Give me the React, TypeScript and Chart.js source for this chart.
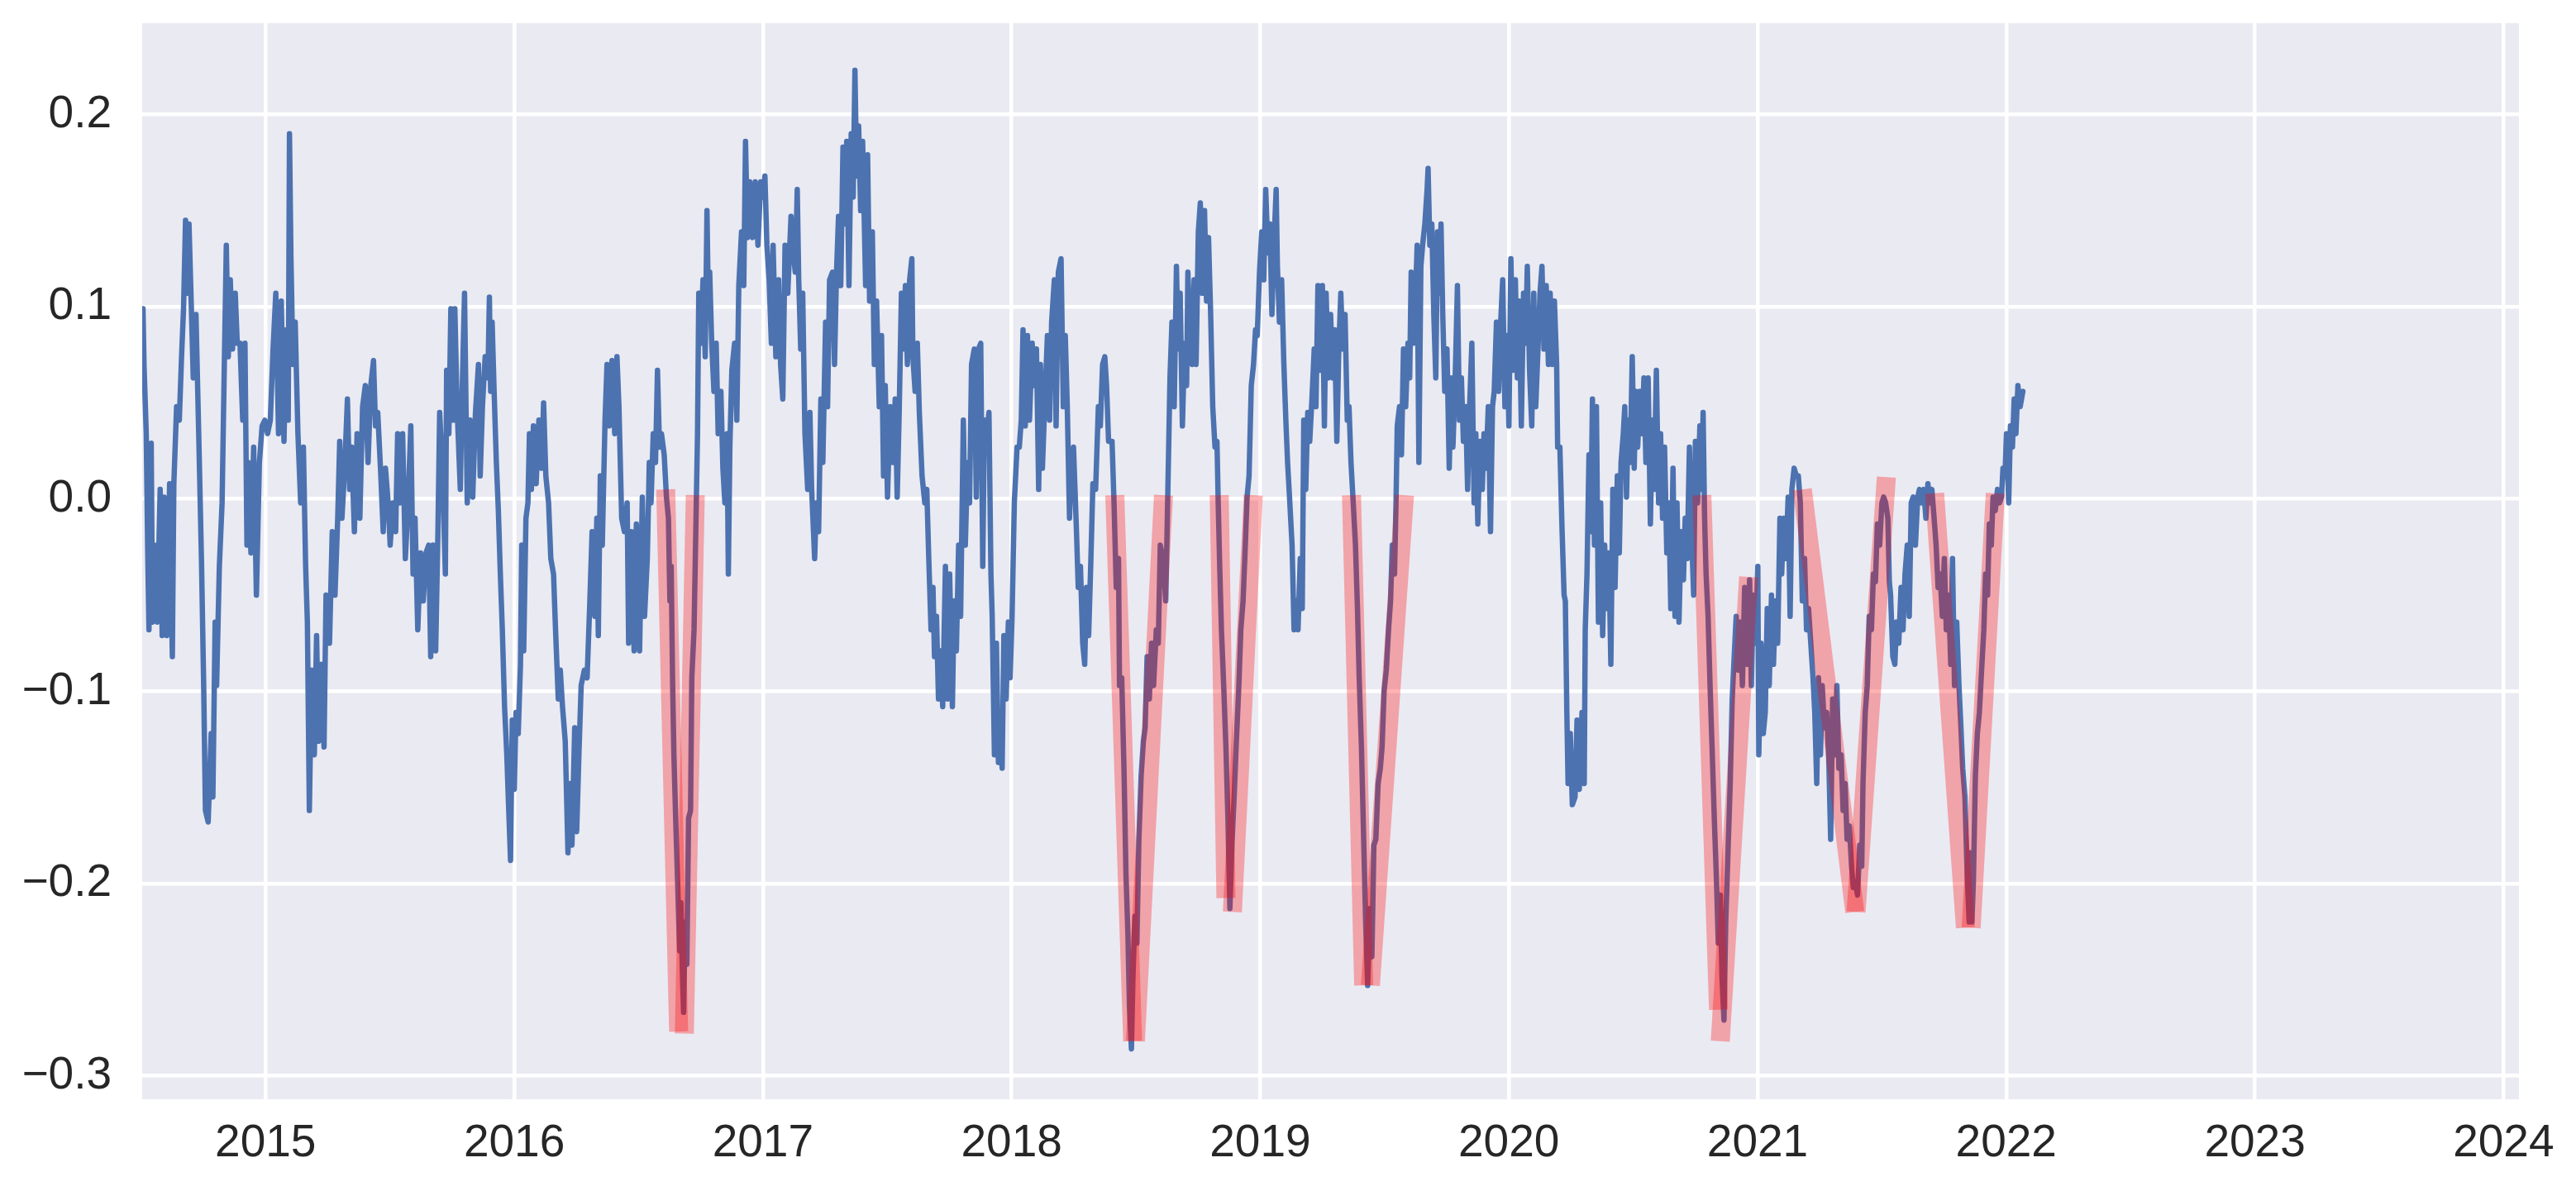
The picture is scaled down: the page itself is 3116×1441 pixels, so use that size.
import React, { useEffect, useRef } from 'react';
import { Chart, registerables } from 'chart.js';

Chart.register(...registerables);

type Pt = [number, number];

// Axis ticks and visible window (x in decimal years)
const yearTicks = [2015, 2016, 2017, 2018, 2019, 2020, 2021, 2022, 2023, 2024];
const valueTicks = [-0.3, -0.2, -0.1, 0.0, 0.1, 0.2];
const xWindow = [2014.5037, 2024.062];
const yWindow = [-0.3122, 0.2475];

// Series: [decimal year, value]
const path2014to2015: Pt[] = [
  [2014.507,0.099],[2014.511,0.070],[2014.520,0.034],[2014.526,-0.028],[2014.531,-0.068],[2014.540,0.029],[2014.545,-0.064],[2014.553,-0.024],[2014.564,-0.064],[2014.576,0.005],[2014.584,-0.071],[2014.592,0.001],[2014.603,-0.071],[2014.614,0.008],[2014.625,-0.082],[2014.631,0.008],[2014.642,0.048],[2014.653,0.041],[2014.662,0.074],[2014.670,0.099],[2014.678,0.145],[2014.686,0.107],[2014.692,0.143],[2014.703,0.092],[2014.709,0.063],[2014.720,0.096],[2014.731,0.034],[2014.742,-0.031],[2014.751,-0.097],[2014.758,-0.162],[2014.769,-0.168],[2014.781,-0.122],[2014.788,-0.155],[2014.797,-0.064],[2014.803,-0.097],[2014.814,-0.035],[2014.825,-0.002],[2014.834,0.070],[2014.842,0.132],[2014.850,0.074],[2014.858,0.114],[2014.867,0.078],[2014.878,0.107],[2014.886,0.081],[2014.897,0.081],[2014.908,0.041],[2014.917,0.081],[2014.925,-0.024],[2014.930,0.019],[2014.941,-0.028],[2014.952,0.027],[2014.963,-0.050],[2014.975,0.019],[2014.986,0.038],[2014.997,0.041],[2015.008,0.034],[2015.019,0.041],[2015.030,0.078],[2015.041,0.107],[2015.052,0.034],[2015.063,0.103],[2015.074,0.030],[2015.083,0.088],[2015.091,0.041],[2015.096,0.190],[2015.102,0.125],[2015.110,0.070],[2015.119,0.092],[2015.130,0.034],[2015.141,-0.002],[2015.152,0.027],[2015.161,-0.035],[2015.168,-0.064],[2015.176,-0.162],[2015.185,-0.089],[2015.196,-0.133],[2015.205,-0.071],[2015.213,-0.126],[2015.224,-0.086],[2015.235,-0.129],[2015.243,-0.050],[2015.257,-0.075],[2015.268,-0.017],[2015.279,-0.050],[2015.290,-0.010],[2015.298,0.030],[2015.307,-0.010],[2015.318,0.016],[2015.329,0.052],[2015.338,0.005],[2015.346,0.027],[2015.357,-0.017],[2015.368,0.034],[2015.379,-0.010],[2015.390,0.048],[2015.401,0.059],[2015.412,0.019],[2015.423,0.059],[2015.434,0.072],[2015.442,0.038],[2015.451,0.045],[2015.462,0.016],[2015.473,-0.017],[2015.482,0.016],[2015.493,-0.002],[2015.501,-0.024],[2015.512,-0.002],[2015.523,-0.017],[2015.531,0.034],[2015.540,-0.002],[2015.551,0.034],[2015.562,-0.031],[2015.573,-0.002],[2015.584,0.038],[2015.593,-0.039],[2015.601,-0.010],[2015.612,-0.068],[2015.623,-0.028],[2015.634,-0.053],[2015.645,-0.028],[2015.656,-0.024],[2015.664,-0.082],[2015.673,-0.024],[2015.684,-0.079],[2015.693,-0.017],[2015.700,0.045],[2015.711,0.016],[2015.723,-0.039],[2015.728,0.067],[2015.737,0.034],[2015.745,0.099],[2015.756,0.041],[2015.761,0.099],[2015.770,0.048],[2015.783,0.005],[2015.789,0.048],[2015.800,0.107],[2015.811,-0.002],[2015.822,0.041],
];

const path2016: Pt[] = [
  [2015.833,0.001],[2015.844,0.045],[2015.856,0.070],[2015.863,0.012],[2015.872,0.048],[2015.883,0.074],[2015.894,0.063],[2015.900,0.105],[2015.905,0.056],[2015.911,0.092],[2015.919,0.056],[2015.928,0.019],[2015.936,-0.006],[2015.944,-0.039],[2015.952,-0.068],[2015.961,-0.108],[2015.970,-0.133],[2015.977,-0.159],[2015.985,-0.188],[2015.992,-0.115],[2016.000,-0.151],[2016.007,-0.111],[2016.016,-0.122],[2016.025,-0.086],[2016.030,-0.024],[2016.038,-0.079],[2016.047,-0.010],[2016.055,-0.002],[2016.061,0.034],[2016.069,0.005],[2016.077,0.038],[2016.088,0.008],[2016.099,0.041],[2016.110,0.016],[2016.118,0.050],[2016.127,0.012],[2016.138,-0.002],[2016.147,-0.031],[2016.158,-0.039],[2016.166,-0.068],[2016.177,-0.104],[2016.185,-0.089],[2016.194,-0.108],[2016.205,-0.126],[2016.216,-0.184],[2016.225,-0.148],[2016.232,-0.180],[2016.243,-0.119],[2016.251,-0.173],[2016.260,-0.133],[2016.269,-0.097],[2016.282,-0.089],[2016.293,-0.093],[2016.304,-0.053],[2016.313,-0.017],[2016.324,-0.061],[2016.332,-0.010],[2016.338,-0.071],[2016.346,0.012],[2016.354,-0.024],[2016.365,0.041],[2016.373,0.070],[2016.382,0.038],[2016.393,0.072],[2016.404,0.034],[2016.413,0.074],[2016.421,0.048],[2016.432,-0.010],[2016.443,-0.017],[2016.454,-0.002],[2016.460,-0.075],[2016.471,-0.017],[2016.482,-0.079],[2016.491,-0.013],[2016.504,-0.079],[2016.515,0.001],[2016.524,-0.061],[2016.535,-0.031],[2016.543,0.019],[2016.550,-0.002],[2016.559,0.034],[2016.568,0.019],[2016.576,0.067],[2016.584,0.027],[2016.592,0.034],[2016.603,0.023],[2016.612,0.001],[2016.620,-0.010],[2016.626,-0.053],[2016.631,-0.035],[2016.637,-0.097],[2016.642,-0.133],[2016.650,-0.170],[2016.657,-0.199],[2016.665,-0.235],[2016.670,-0.210],[2016.676,-0.246],[2016.681,-0.267],[2016.687,-0.220],[2016.694,-0.242],[2016.701,-0.166],[2016.709,-0.162],[2016.714,-0.093],[2016.723,-0.068],[2016.731,-0.010],[2016.737,0.034],[2016.742,0.107],[2016.750,0.081],[2016.759,0.114],[2016.768,0.074],[2016.775,0.150],[2016.781,0.096],[2016.786,0.118],[2016.794,0.081],[2016.803,0.056],[2016.812,0.081],[2016.820,0.034],[2016.831,0.056],[2016.839,0.016],[2016.847,-0.002],[2016.856,0.034],[2016.861,-0.039],[2016.867,0.027],[2016.875,0.067],[2016.886,0.081],[2016.895,0.041],[2016.903,0.111],[2016.914,0.139],[2016.923,0.111],[2016.930,0.186],[2016.938,0.136],[2016.947,0.165],[2016.958,0.136],[2016.969,0.165],[2016.980,0.132],[2016.991,0.165],[2017.000,0.157],[2017.008,0.168],[2017.016,0.132],[2017.025,0.114],[2017.034,0.081],[2017.041,0.132],[2017.052,0.074],[2017.063,0.114],[2017.071,0.070],[2017.080,0.052],[2017.089,0.132],[2017.100,0.107],[2017.113,0.147],[2017.122,0.128],
];

const path2017: Pt[] = [
  [2017.130,0.118],[2017.138,0.161],[2017.144,0.114],[2017.152,0.078],[2017.160,0.107],[2017.169,0.034],[2017.180,0.005],[2017.189,0.045],[2017.196,0.005],[2017.208,-0.031],[2017.215,-0.002],[2017.224,-0.017],[2017.233,0.052],[2017.241,0.019],[2017.252,0.092],[2017.260,0.048],[2017.268,0.114],[2017.280,0.118],[2017.288,0.070],[2017.296,0.118],[2017.304,0.147],[2017.313,0.111],[2017.322,0.183],[2017.329,0.143],[2017.337,0.186],[2017.346,0.111],[2017.355,0.190],[2017.363,0.157],[2017.370,0.223],[2017.377,0.168],[2017.385,0.194],[2017.393,0.150],[2017.401,0.186],[2017.413,0.111],[2017.421,0.179],[2017.429,0.103],[2017.440,0.139],[2017.448,0.070],[2017.457,0.103],[2017.468,0.048],[2017.477,0.085],[2017.485,0.012],[2017.492,0.059],[2017.501,0.001],[2017.512,0.048],[2017.523,0.019],[2017.532,0.052],[2017.540,0.001],[2017.548,0.045],[2017.557,0.107],[2017.565,0.078],[2017.573,0.111],[2017.581,0.070],[2017.590,0.114],[2017.599,0.125],[2017.603,0.074],[2017.612,0.056],[2017.621,0.081],[2017.629,0.045],[2017.640,0.012],[2017.651,-0.002],[2017.659,0.005],[2017.667,-0.031],[2017.676,-0.068],[2017.684,-0.046],[2017.690,-0.082],[2017.698,-0.061],[2017.706,-0.104],[2017.714,-0.079],[2017.723,-0.108],[2017.734,-0.035],[2017.743,-0.104],[2017.751,-0.039],[2017.762,-0.108],[2017.769,-0.053],[2017.778,-0.079],[2017.787,-0.024],[2017.795,-0.061],[2017.806,0.041],[2017.814,-0.024],[2017.823,0.019],[2017.831,-0.002],[2017.839,0.070],[2017.850,0.078],[2017.858,0.001],[2017.867,0.078],[2017.876,0.081],[2017.884,-0.035],[2017.891,0.041],[2017.900,0.034],[2017.909,0.045],[2017.917,-0.039],[2017.922,-0.061],[2017.931,-0.133],[2017.939,-0.075],[2017.947,-0.137],[2017.956,-0.111],[2017.962,-0.140],[2017.969,-0.071],[2017.978,-0.104],[2017.987,-0.064],[2017.994,-0.093],[2018.002,-0.061],[2018.011,-0.002],[2018.022,0.027],[2018.031,0.027],[2018.039,0.041],[2018.046,0.088],[2018.055,0.038],[2018.064,0.085],[2018.072,0.041],[2018.083,0.081],[2018.091,0.059],[2018.100,0.078],[2018.109,0.005],[2018.116,0.070],[2018.124,0.016],[2018.133,0.048],[2018.144,0.085],[2018.153,0.041],[2018.161,0.092],[2018.172,0.114],[2018.179,0.038],[2018.188,0.118],[2018.199,0.125],[2018.208,0.048],[2018.216,0.085],[2018.224,0.048],[2018.233,-0.010],[2018.241,0.019],[2018.249,0.027],[2018.260,-0.013],[2018.268,-0.046],[2018.277,-0.035],[2018.286,-0.075],[2018.294,-0.086],[2018.301,-0.046],[2018.310,-0.071],[2018.319,-0.031],[2018.327,0.008],[2018.338,0.005],[2018.349,0.048],[2018.357,0.038],[2018.366,0.070],[2018.375,0.074],[2018.382,0.059],[2018.390,0.030],
];

const path2018to2019: Pt[] = [
  [2018.404,0.030],[2018.412,-0.002],[2018.421,-0.046],[2018.430,-0.031],[2018.434,-0.097],[2018.443,-0.093],[2018.452,-0.140],[2018.460,-0.195],[2018.468,-0.227],[2018.474,-0.264],[2018.482,-0.286],[2018.488,-0.249],[2018.496,-0.217],[2018.504,-0.231],[2018.512,-0.177],[2018.521,-0.144],[2018.530,-0.126],[2018.537,-0.119],[2018.545,-0.082],[2018.554,-0.104],[2018.563,-0.075],[2018.571,-0.097],[2018.582,-0.068],[2018.590,-0.075],[2018.598,-0.024],[2018.609,-0.031],[2018.620,-0.053],[2018.629,0.008],[2018.637,0.063],[2018.645,0.092],[2018.654,0.048],[2018.663,0.121],[2018.670,0.078],[2018.678,0.107],[2018.687,0.038],[2018.696,0.081],[2018.704,0.059],[2018.709,0.118],[2018.718,0.085],[2018.726,0.070],[2018.734,0.114],[2018.742,0.070],[2018.751,0.139],[2018.759,0.154],[2018.767,0.107],[2018.776,0.150],[2018.784,0.103],[2018.792,0.136],[2018.800,0.099],[2018.809,0.048],[2018.818,0.027],[2018.826,0.030],[2018.831,-0.002],[2018.837,-0.035],[2018.844,-0.068],[2018.853,-0.097],[2018.862,-0.129],[2018.870,-0.166],[2018.878,-0.213],[2018.886,-0.180],[2018.895,-0.155],[2018.903,-0.129],[2018.914,-0.097],[2018.922,-0.068],[2018.931,-0.053],[2018.940,-0.024],[2018.947,0.001],[2018.955,0.012],[2018.964,0.059],[2018.973,0.070],[2018.981,0.088],[2018.988,0.085],[2018.997,0.118],[2019.006,0.139],[2019.014,0.114],[2019.022,0.161],[2019.031,0.128],[2019.039,0.143],[2019.047,0.096],[2019.055,0.132],[2019.064,0.161],[2019.069,0.121],[2019.077,0.092],[2019.086,0.114],[2019.095,0.070],[2019.103,0.041],[2019.110,0.019],[2019.119,-0.002],[2019.128,-0.024],[2019.136,-0.068],[2019.144,-0.053],[2019.152,-0.068],[2019.161,-0.031],[2019.169,-0.057],[2019.175,0.041],[2019.183,0.005],[2019.191,0.045],[2019.199,0.030],[2019.208,0.052],[2019.217,0.078],[2019.224,0.048],[2019.232,0.111],[2019.241,0.067],[2019.250,0.111],[2019.258,0.038],[2019.265,0.107],[2019.274,0.063],[2019.283,0.096],[2019.291,0.063],[2019.299,0.088],[2019.308,0.030],[2019.316,0.078],[2019.324,0.107],[2019.332,0.078],[2019.341,0.096],[2019.350,0.041],[2019.357,0.048],[2019.365,0.019],[2019.374,-0.002],[2019.383,-0.024],[2019.391,-0.057],[2019.398,-0.093],[2019.407,-0.129],[2019.416,-0.177],[2019.424,-0.220],[2019.432,-0.253],[2019.441,-0.213],[2019.449,-0.238],[2019.457,-0.180],[2019.465,-0.177],[2019.474,-0.148],[2019.483,-0.140],[2019.490,-0.129],[2019.498,-0.100],[2019.507,-0.089],[2019.516,-0.068],[2019.524,-0.053],[2019.531,-0.024],[2019.540,-0.039],[2019.546,-0.002],[2019.551,0.038],[2019.560,0.048],[2019.568,0.023],[2019.576,0.078],[2019.585,0.048],[2019.594,0.081],[2019.601,0.063],[2019.607,0.118],[2019.616,0.081],[2019.623,0.099],[2019.631,0.132],[2019.638,0.019],[2019.646,0.121],[2019.653,0.132],[2019.662,0.143],[2019.671,0.161],[2019.675,0.172],[2019.682,0.132],[2019.690,0.143],[2019.698,0.096],[2019.706,0.063],[2019.713,0.139],
];

const path2020: Pt[] = [
  [2019.720,0.107],[2019.727,0.143],[2019.734,0.096],[2019.742,0.056],[2019.751,0.078],[2019.760,0.016],[2019.768,0.063],[2019.775,0.027],[2019.784,0.063],[2019.793,0.111],[2019.801,0.041],[2019.809,0.063],[2019.817,0.030],[2019.826,0.048],[2019.834,0.005],[2019.842,0.048],[2019.851,0.081],[2019.860,-0.002],[2019.867,0.034],[2019.875,-0.013],[2019.884,0.030],[2019.893,0.005],[2019.900,0.034],[2019.908,0.016],[2019.917,0.048],[2019.926,-0.017],[2019.934,0.048],[2019.941,0.056],[2019.950,0.092],[2019.959,0.056],[2019.967,0.092],[2019.975,0.114],[2019.984,0.048],[2019.992,0.085],[2020.000,0.038],[2020.008,0.125],[2020.017,0.067],[2020.026,0.114],[2020.034,0.063],[2020.041,0.103],[2020.050,0.038],[2020.059,0.107],[2020.067,0.081],[2020.074,0.121],[2020.083,0.067],[2020.092,0.038],[2020.100,0.107],[2020.108,0.048],[2020.117,0.078],[2020.125,0.107],[2020.133,0.121],[2020.141,0.078],[2020.150,0.111],[2020.159,0.070],[2020.166,0.107],[2020.174,0.070],[2020.183,0.103],[2020.192,0.070],[2020.196,0.027],[2020.205,0.027],[2020.214,-0.017],[2020.222,-0.050],[2020.227,-0.053],[2020.233,-0.111],[2020.238,-0.148],[2020.247,-0.122],[2020.255,-0.159],[2020.266,-0.155],[2020.274,-0.115],[2020.283,-0.151],[2020.294,-0.111],[2020.303,-0.148],[2020.307,-0.068],[2020.314,-0.039],[2020.322,0.023],[2020.329,-0.017],[2020.336,0.052],[2020.344,-0.024],[2020.352,0.048],[2020.360,-0.064],[2020.369,-0.002],[2020.377,-0.071],[2020.385,-0.024],[2020.394,-0.057],[2020.402,-0.028],[2020.410,-0.086],[2020.418,0.005],[2020.427,-0.046],[2020.436,0.012],[2020.444,-0.028],[2020.451,0.019],[2020.460,0.034],[2020.466,0.048],[2020.473,0.001],[2020.480,0.041],[2020.488,0.019],[2020.496,0.074],[2020.504,0.016],[2020.510,0.056],[2020.518,0.027],[2020.527,0.056],[2020.536,0.034],[2020.543,0.063],[2020.551,0.019],[2020.560,0.063],[2020.569,-0.013],[2020.577,0.041],[2020.584,0.005],[2020.593,0.067],[2020.602,-0.002],[2020.610,0.034],[2020.618,-0.010],[2020.626,0.027],[2020.635,-0.028],[2020.643,-0.002],[2020.651,-0.057],[2020.660,0.016],[2020.668,-0.061],[2020.676,-0.002],[2020.684,-0.064],[2020.693,-0.017],[2020.702,-0.042],[2020.709,-0.010],[2020.717,-0.031],[2020.726,0.027],[2020.735,-0.020],[2020.743,-0.050],[2020.750,0.030],[2020.759,-0.002],[2020.768,0.038],[2020.776,0.005],[2020.781,0.045],[2020.787,-0.010],[2020.793,-0.039],[2020.801,-0.061],[2020.809,-0.097],[2020.817,-0.129],[2020.826,-0.166],[2020.835,-0.199],[2020.842,-0.231],[2020.850,-0.206],[2020.857,-0.249],[2020.865,-0.271],[2020.872,-0.220],[2020.881,-0.184],[2020.890,-0.148],[2020.898,-0.104],[2020.906,-0.082],[2020.914,-0.061],[2020.923,-0.089],[2020.931,-0.064],[2020.939,-0.097],[2020.948,-0.046],[2020.959,-0.086],[2020.968,-0.042],[2020.975,-0.097],[2020.983,-0.050],[2020.992,-0.075],[2021.001,-0.035],
];

const path2021: Pt[] = [
  [2021.005,-0.133],[2021.014,-0.075],[2021.023,-0.122],[2021.031,-0.111],[2021.039,-0.057],[2021.047,-0.097],[2021.056,-0.050],[2021.064,-0.086],[2021.072,-0.053],[2021.081,-0.075],[2021.090,-0.010],[2021.097,-0.039],[2021.105,-0.010],[2021.114,-0.031],[2021.123,0.001],[2021.131,-0.061],[2021.138,0.005],[2021.147,0.016],[2021.156,0.012],[2021.164,0.012],[2021.172,-0.002],[2021.180,-0.053],[2021.189,-0.031],[2021.197,-0.068],[2021.205,-0.057],[2021.214,-0.075],[2021.223,-0.093],[2021.230,-0.111],[2021.238,-0.148],[2021.245,-0.093],[2021.253,-0.133],[2021.260,-0.097],[2021.269,-0.119],[2021.278,-0.111],[2021.286,-0.133],[2021.294,-0.177],[2021.302,-0.104],[2021.311,-0.133],[2021.319,-0.097],[2021.327,-0.140],[2021.336,-0.133],[2021.344,-0.162],[2021.352,-0.148],[2021.360,-0.177],[2021.369,-0.170],[2021.378,-0.191],[2021.385,-0.202],[2021.393,-0.199],[2021.402,-0.206],[2021.411,-0.180],[2021.419,-0.191],[2021.424,-0.148],[2021.433,-0.111],[2021.441,-0.097],[2021.449,-0.061],[2021.458,-0.068],[2021.466,-0.039],[2021.474,-0.043],[2021.482,-0.013],[2021.491,-0.024],[2021.500,-0.002],[2021.507,0.001],[2021.515,-0.002],[2021.524,-0.010],[2021.530,-0.043],[2021.535,-0.050],[2021.544,-0.082],[2021.552,-0.086],[2021.559,-0.064],[2021.568,-0.075],[2021.577,-0.046],[2021.585,-0.068],[2021.593,-0.039],[2021.602,-0.024],[2021.610,-0.061],[2021.618,-0.002],[2021.626,0.001],[2021.635,-0.024],[2021.644,0.001],[2021.651,0.005],[2021.659,-0.002],[2021.668,0.005],[2021.677,-0.010],[2021.685,0.008],[2021.692,-0.002],[2021.701,0.005],[2021.710,-0.010],[2021.718,-0.024],[2021.726,-0.046],[2021.734,-0.039],[2021.743,-0.061],[2021.751,-0.031],[2021.759,-0.068],[2021.768,-0.050],[2021.777,-0.086],[2021.784,-0.031],[2021.792,-0.097],[2021.801,-0.064],[2021.810,-0.097],[2021.818,-0.119],[2021.825,-0.140],[2021.834,-0.155],[2021.843,-0.195],[2021.851,-0.220],[2021.856,-0.184],[2021.862,-0.220],[2021.868,-0.199],[2021.876,-0.144],[2021.884,-0.122],[2021.892,-0.111],[2021.901,-0.089],[2021.910,-0.068],[2021.917,-0.039],[2021.925,-0.050],[2021.932,-0.013],[2021.940,-0.024],[2021.947,0.001],[2021.956,-0.006],[2021.965,0.005],[2021.973,-0.002],[2021.981,0.001],[2021.987,0.016],[2021.995,0.012],[2022.001,0.034],[2022.010,-0.002],[2022.017,0.038],[2022.025,0.027],[2022.032,0.052],[2022.039,0.034],[2022.047,0.059],[2022.056,0.048],[2022.067,0.056],
];

// Drawdown legs: start -> trough (falling leg), trough -> end (recovery leg)
const drawdownStarts: Pt[] = [
  [2016.609, 0.005], [2018.415, 0.002], [2018.835, 0.002], [2019.367, 0.002],
  [2020.776, 0.002], [2021.180, 0.005], [2021.712, 0.003],
];
const drawdownTroughsIn: Pt[] = [
  [2016.661, -0.277], [2018.487, -0.282], [2018.862, -0.2075], [2019.416, -0.253],
  [2020.843, -0.2656], [2021.391, -0.2148], [2021.836, -0.223],
];
const drawdownTroughsOut: Pt[] = [
  [2016.684, -0.278], [2018.498, -0.282], [2018.888, -0.2148], [2019.443, -0.253],
  [2020.850, -0.282], [2021.396, -0.2148], [2021.859, -0.223],
];
const drawdownEnds: Pt[] = [
  [2016.728, 0.002], [2018.611, 0.002], [2018.972, 0.002], [2019.580, 0.002],
  [2020.964, -0.0405], [2021.518, 0.0114], [2021.956, 0.003],
];

const seriesPath: Pt[] = [
  ...path2014to2015, ...path2016, ...path2017, ...path2018to2019, ...path2020, ...path2021,
];

const FONT = '"Liberation Sans", Arial, Helvetica, sans-serif';
const TEXT = '#262626';
const PLOT_BG = '#EAEAF2';
const LINE_BLUE = '#4C72B0';
const LEG_RED = 'rgba(255, 0, 0, 0.3)';

const toXY = (p: Pt) => ({ x: p[0], y: p[1] });

const plotBackground = {
  id: 'plotBackground',
  beforeDraw(chart: any) {
    const { ctx, chartArea } = chart;
    if (!chartArea) return;
    ctx.save();
    ctx.fillStyle = PLOT_BG;
    ctx.fillRect(chartArea.left, chartArea.top, chartArea.right - chartArea.left, chartArea.bottom - chartArea.top);
    ctx.restore();
  },
};

const formatValue = (v: number) => {
  const s = Number(v).toFixed(1);
  return s.startsWith('-') ? '\u2212' + s.slice(1) : s;
};

export default function App() {
  const canvasRef = useRef<HTMLCanvasElement | null>(null);

  useEffect(() => {
    const canvas = canvasRef.current;
    if (!canvas) return;

    const legDatasets: any[] = [];
    drawdownStarts.forEach((start, i) => {
      const legs: Pt[][] = [
        [start, drawdownTroughsIn[i]],
        [drawdownTroughsOut[i], drawdownEnds[i]],
      ];
      legs.forEach((leg) => {
        legDatasets.push({
          data: leg.map(toXY),
          borderColor: LEG_RED,
          borderWidth: 23,
          borderCapStyle: 'butt',
          pointRadius: 0,
          tension: 0,
          fill: false,
          order: 0,
        });
      });
    });

    const chart = new Chart(canvas, {
      type: 'line',
      data: {
        datasets: [
          ...legDatasets,
          {
            data: seriesPath.map(toXY),
            borderColor: LINE_BLUE,
            borderWidth: 6.5,
            borderJoinStyle: 'round',
            borderCapStyle: 'round',
            pointRadius: 0,
            tension: 0,
            fill: false,
            order: 1,
          },
        ],
      },
      options: {
        animation: false,
        responsive: false,
        devicePixelRatio: 1,
        events: [],
        layout: { padding: { left: 0, top: 28, right: 69, bottom: 0 } },
        plugins: {
          legend: { display: false },
          tooltip: { enabled: false },
        },
        scales: {
          x: {
            type: 'linear',
            min: xWindow[0],
            max: xWindow[1],
            afterBuildTicks: (axis: any) => {
              axis.ticks = yearTicks.map((v) => ({ value: v }));
            },
            afterFit: (axis: any) => {
              axis.height = 111;
              axis.paddingLeft = 0;
              axis.paddingRight = 0;
            },
            ticks: {
              autoSkip: false,
              maxRotation: 0,
              padding: 21,
              color: TEXT,
              font: { family: FONT, size: 55 },
              callback: (v: any) => String(Math.round(Number(v))),
            },
            grid: { color: '#FFFFFF', lineWidth: 4.5, drawTicks: false },
            border: { display: false },
          },
          y: {
            type: 'linear',
            min: yWindow[0],
            max: yWindow[1],
            afterBuildTicks: (axis: any) => {
              axis.ticks = valueTicks.map((v) => ({ value: v }));
            },
            afterFit: (axis: any) => {
              axis.width = 172;
              axis.paddingTop = 0;
              axis.paddingBottom = 0;
            },
            ticks: {
              autoSkip: false,
              padding: 37,
              color: TEXT,
              font: { family: FONT, size: 55 },
              callback: (v: any) => formatValue(Number(v)),
            },
            grid: { color: '#FFFFFF', lineWidth: 4.5, drawTicks: false },
            border: { display: false },
          },
        },
      } as any,
      plugins: [plotBackground],
    });

    return () => chart.destroy();
  }, []);

  return (
    <div style={{ position: 'absolute', left: 0, top: 0, width: 3116, height: 1441, background: '#FFFFFF' }}>
      <canvas ref={canvasRef} width={3116} height={1441} style={{ display: 'block', width: 3116, height: 1441 }} />
    </div>
  );
}
